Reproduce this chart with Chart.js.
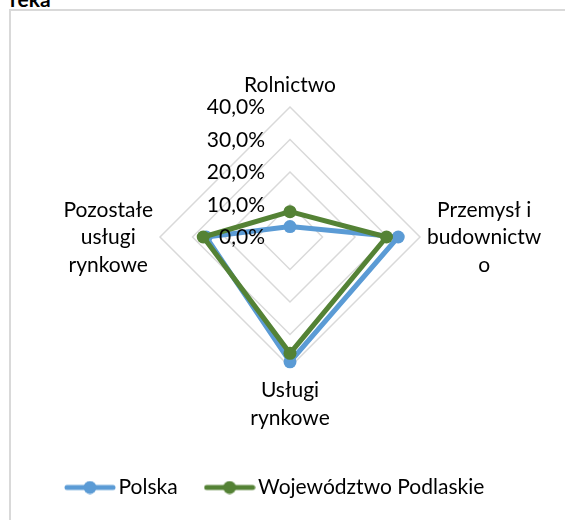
<!DOCTYPE html>
<html lang="pl">
<head>
<meta charset="utf-8">
<title>Struktura pracujących</title>
<script src="https://cdn.jsdelivr.net/npm/chart.js@4.4.1/dist/chart.umd.min.js"></script>
<style>
  html, body { margin: 0; padding: 0; background: #fff; overflow: hidden; }
  #cut { position: absolute; left: 10px; top: -14px; font: bold 21px Lato, sans-serif; color: #000; }
  #frame { position: absolute; left: 9px; top: 9px; width: 700px; height: 700px; border: 2px solid #d9d9d9; }
  #wrap { position: absolute; left: 0; top: 0; width: 565px; height: 520px; }
</style>
</head>
<body>
<div id="cut">reka</div>
<div id="frame"></div>
<div id="wrap"><canvas id="radar" width="565" height="520"></canvas></div>
<script>
// Osie wykresu (sektory), wiersze jak w oryginale
const categories = [
    ['Rolnictwo'],
    ['Przemysł i', 'budownictw', 'o'],
    ['Usługi', 'rynkowe'],
    ['Pozostałe', 'usługi', 'rynkowe']
];
// Udział w %
const polska = [3.2, 33.3, 38.4, 25.8];
const podlaskie = [7.8, 29.7, 35.8, 26.7];
const seriesNames = ['Polska', 'Województwo Podlaskie'];
const tickLabels = ['0,0%', '10,0%', '20,0%', '30,0%', '40,0%'];

const colors = ['#5b9bd5', '#548235'];
const labelGap = [15, 7, 30, 7];
const lineStep = 27.5;

Chart.defaults.font.family = 'Lato';
Chart.defaults.font.size = 21;
Chart.defaults.color = '#000';

// Ikona legendy: linia z kółkiem
function legendIcon(color) {
    const c = document.createElement('canvas');
    c.width = 52;
    c.height = 14;
    const g = c.getContext('2d');
    g.strokeStyle = color;
    g.fillStyle = color;
    g.lineWidth = 5;
    g.lineCap = 'round';
    g.beginPath();
    g.moveTo(3, 7);
    g.lineTo(49, 7);
    g.stroke();
    g.beginPath();
    g.arc(26, 7, 6.5, 0, Math.PI * 2);
    g.fill();
    return c;
}

// Opisy wartości i nazwy osi (wiersze wyśrodkowane jak w Excelu)
const axisText = {
    id: 'axisText',
    afterDraw(chart) {
        const scale = chart.scales.r;
        const ctx = chart.ctx;
        ctx.save();
        ctx.font = '21px Lato';
        ctx.fillStyle = '#000';
        ctx.textBaseline = 'alphabetic';

        ctx.textAlign = 'right';
        scale.ticks.forEach((t, i) => {
            const y = scale.yCenter - scale.getDistanceFromCenterForValue(t.value);
            ctx.fillText(t.label || tickLabels[i], scale.xCenter - 25, y + 7);
        });

        ctx.textAlign = 'center';
        categories.forEach((lines, i) => {
            const p = scale.getPointPosition(i, scale.drawingArea + labelGap[i]);
            const w = Math.max(...lines.map(s => ctx.measureText(s).width));
            const dx = Math.round(Math.cos(p.angle));
            const dy = Math.round(Math.sin(p.angle));
            const cx = p.x + dx * w / 2;
            let y0;
            if (dy < 0) y0 = p.y - (lines.length - 1) * lineStep;
            else if (dy > 0) y0 = p.y;
            else y0 = p.y + 7 - (lines.length - 1) * lineStep / 2;
            lines.forEach((s, k) => ctx.fillText(s, cx, y0 + k * lineStep));
        });
        ctx.restore();
    }
};

const ctx = document.getElementById('radar').getContext('2d');
new Chart(ctx, {
    type: 'radar',
    data: {
        labels: categories,
        datasets: [{
            label: seriesNames[0],
            data: polska,
            borderColor: colors[0],
            backgroundColor: colors[0],
            pointBackgroundColor: colors[0],
            pointBorderWidth: 0,
            pointRadius: 6.5,
            borderWidth: 5,
            fill: false,
            order: 1
        }, {
            label: seriesNames[1],
            data: podlaskie,
            borderColor: colors[1],
            backgroundColor: colors[1],
            pointBackgroundColor: colors[1],
            pointBorderWidth: 0,
            pointRadius: 6.5,
            borderWidth: 5,
            fill: false,
            order: 0
        }]
    },
    options: {
        responsive: false,
        animation: false,
        layout: {
            padding: { left: 38, right: 23, top: 107, bottom: 12 }
        },
        scales: {
            r: {
                min: 0,
                max: 40,
                beginAtZero: true,
                ticks: {
                    stepSize: 10,
                    display: false,
                    callback: (v, i) => tickLabels[i]
                },
                grid: { circular: false, color: '#d9d9d9', lineWidth: 1.5 },
                angleLines: { display: false },
                pointLabels: { display: false }
            }
        },
        plugins: {
            tooltip: { enabled: false },
            legend: {
                position: 'bottom',
                align: 'start',
                onClick: null,
                title: {
                    display: true,
                    text: '',
                    font: { size: 13, lineHeight: 1 },
                    padding: { top: 63, bottom: 0 }
                },
                labels: {
                    usePointStyle: true,
                    pointStyleWidth: 36,
                    padding: 34,
                    color: '#000',
                    font: { size: 21 },
                    generateLabels(chart) {
                        const items = Chart.defaults.plugins.legend.labels.generateLabels(chart);
                        items.sort((a, b) => a.datasetIndex - b.datasetIndex);
                        items.forEach(it => { it.pointStyle = legendIcon(colors[it.datasetIndex]); });
                        return items;
                    }
                }
            }
        }
    },
    plugins: [axisText]
});
</script>
</body>
</html>
